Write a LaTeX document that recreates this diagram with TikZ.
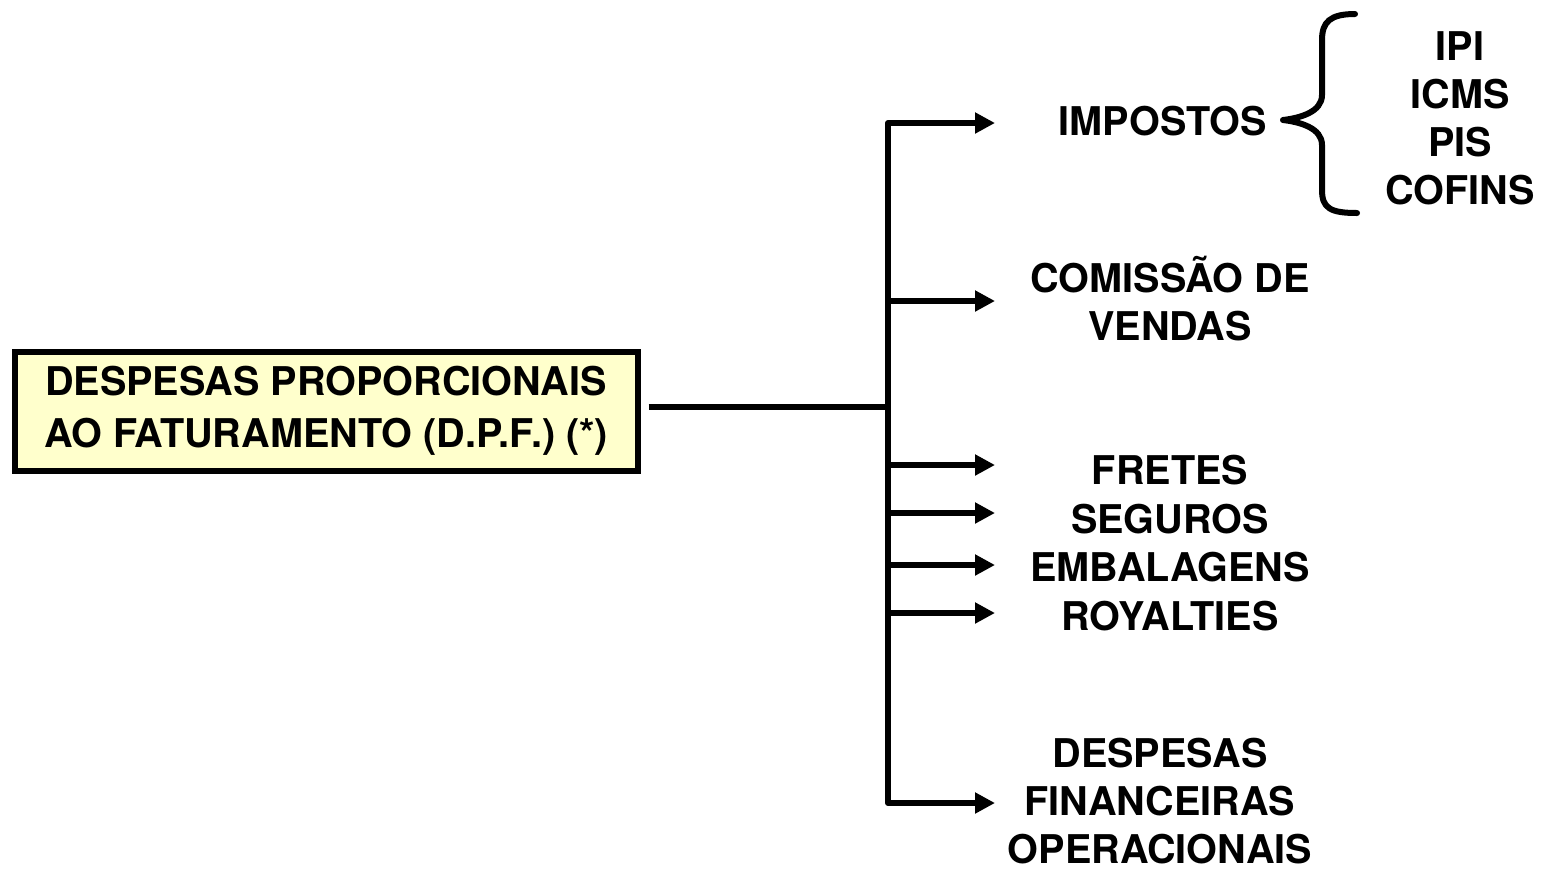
\documentclass[tikz,border=0pt]{standalone}
\usepackage{fontspec}
\setmainfont{TeX Gyre Heros}
\usetikzlibrary{arrows.meta}
\definecolor{boxfill}{HTML}{FFFFCC}

\begin{document}
\begin{tikzpicture}[x=0.5pt,y=-0.5pt]
		\tikzstyle{item}=[font=\bfseries\fontsize{19.8}{24}\selectfont, align=center, inner sep=0pt]
		\tikzstyle{mainbox}=[draw=black, line width=3pt, fill=boxfill, minimum width=311.5pt, minimum height=59.5pt, font=\bfseries\fontsize{19.8}{26}\selectfont, align=center, inner sep=0pt]
		\tikzstyle{wire}=[draw, line width=3pt, line join=round]
		\tikzstyle{branch}=[wire, -{Triangle[length=10pt,width=10pt]}]
		\useasboundingbox (0,0) rectangle (1541,869);
		% left box
		\node [mainbox] (dpf) at (326,411) {DESPESAS PROPORCIONAIS\\AO FATURAMENTO (D.P.F.) (*)};
		% right labels
		\node [item] (impostos) at (1163,121) {IMPOSTOS};
		\node [item] (comissao) at (1170,299) {COMISSÃO DE\\VENDAS};
		\node [item] (fretes) at (1170,470) {FRETES};
		\node [item] (seguros) at (1170,519) {SEGUROS};
		\node [item] (embalagens) at (1170,567) {EMBALAGENS};
		\node [item] (royalties) at (1170,616) {ROYALTIES};
		\node [item] (financeiras) at (1160,801) {DESPESAS\\FINANCEIRAS\\OPERACIONAIS};
		\node [item] (tributos) at (1460,118) {IPI\\ICMS\\PIS\\COFINS};
		% bus points and arrow ends
		\coordinate (top) at (888,123);
		\coordinate (hub) at (888,407);
		\coordinate (bot) at (888,803);
		\coordinate (e1) at (995,123);
		\coordinate (e2) at (995,301);
		\coordinate (e3) at (995,465);
		\coordinate (e4) at (995,513);
		\coordinate (e5) at (995,565);
		\coordinate (e6) at (995,613);
		\coordinate (e7) at (995,803);
		\draw [wire] ([xshift=4pt]dpf.east |- hub) -- (hub);
		\draw [branch] (hub) -- (top) -- (e1);
		\draw [branch] (hub) -- (bot) -- (e7);
		\draw [branch] (e2 -| hub) -- (e2);
		\draw [branch] (e3 -| hub) -- (e3);
		\draw [branch] (e4 -| hub) -- (e4);
		\draw [branch] (e5 -| hub) -- (e5);
		\draw [branch] (e6 -| hub) -- (e6);
		% brace
		\draw [line width=3pt, line cap=round, line join=round]
			(1355,14) .. controls (1330,14) and (1322,22) .. (1322,40) -- (1322,95)
			.. controls (1322,112) and (1300,118) .. (1283,120)
			.. controls (1300,122) and (1322,128) .. (1322,145) -- (1322,190)
			.. controls (1322,208) and (1330,213) .. (1357,213);
\end{tikzpicture}
\end{document}
